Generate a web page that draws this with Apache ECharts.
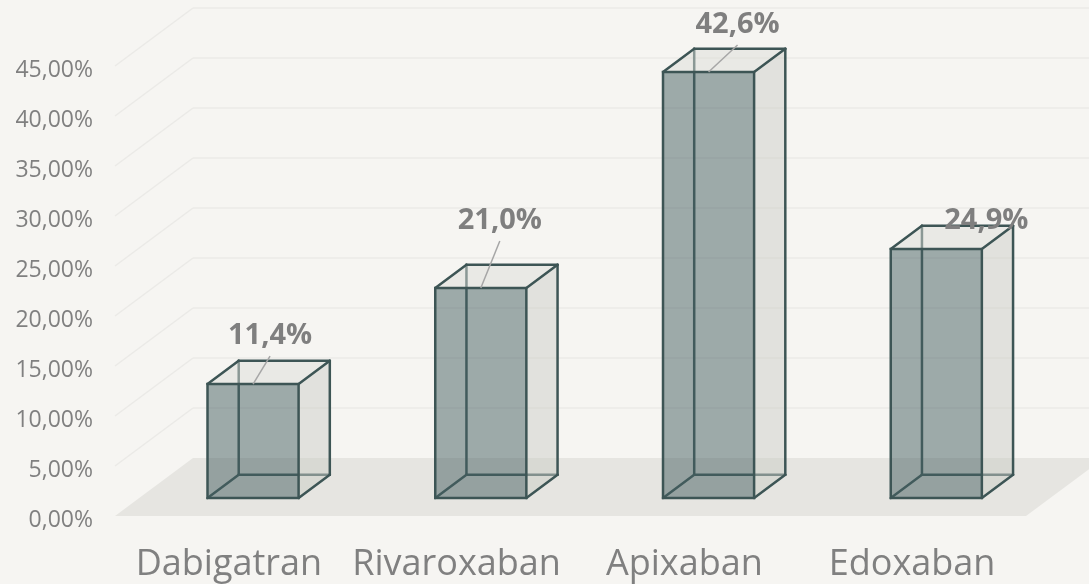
<!DOCTYPE html>
<html>
<head>
<meta charset="utf-8">
<script src="https://cdn.jsdelivr.net/npm/echarts@6/dist/echarts.min.js"></script>
<style>
html,body{margin:0;padding:0;background:#f6f5f2;}
#chart{width:1089px;height:584px;}
</style>
</head>
<body>
<div id="chart"></div>
<script>
// ---- data ----
const categories = ['Dabigatran', 'Rivaroxaban', 'Apixaban', 'Edoxaban'];
const shares = [11.4, 21.0, 42.6, 24.9];
const yTicks = [0, 5, 10, 15, 20, 25, 30, 35, 40, 45];

// ---- style constants (pixels) ----
const DEPTH = [78, -58];            // full floor depth vector
const BAR_FRONT = 0.31, BAR_BACK = 0.71; // bar depth fractions
const BAR_WIDTH_FRAC = 0.4;
const labelOffsets = [[17, -48, true], [19, -67, true], [29, -47, true], [50, -28, false]];
const EDGE = '#3d5555';
const FONT = '"Open Sans", "Noto Sans", sans-serif';

const fmtPct = v => v.toFixed(1).replace('.', ',') + '%';
const fmtTick = v => v.toFixed(2).replace('.', ',') + '%';

const chart = echarts.init(document.getElementById('chart'), null, {renderer: 'canvas'});

function wallRender(params, api) {
  const cs = params.coordSys;
  const v = api.value(0);
  const y = api.coord([0, v])[1];
  const x0 = cs.x, x1 = cs.x + cs.width;
  const col = '#ebeae7';
  return {
    type: 'group',
    children: [
      {type: 'line', shape: {x1: x0, y1: y, x2: x0 + DEPTH[0], y2: y + DEPTH[1]},
       style: {stroke: col, lineWidth: 1.5}},
      {type: 'line', shape: {x1: x0 + DEPTH[0], y1: y + DEPTH[1], x2: x1 + DEPTH[0] + 20, y2: y + DEPTH[1]},
       style: {stroke: col, lineWidth: 1.5}}
    ]
  };
}

function floorRender(params, api) {
  const cs = params.coordSys;
  const y = api.coord([0, 0])[1];
  const x0 = cs.x, x1 = cs.x + cs.width;
  return {
    type: 'polygon',
    shape: {points: [[x0, y], [x1, y], [x1 + DEPTH[0], y + DEPTH[1]], [x0 + DEPTH[0], y + DEPTH[1]]]},
    style: {fill: '#e6e5e1'}
  };
}

function barRender(params, api) {
  const i = api.value(0), v = api.value(1);
  const base = api.coord([i, 0]);
  const top = api.coord([i, v]);
  const hw = api.size([1, 0])[0] * BAR_WIDTH_FRAC / 2;
  const fx = DEPTH[0] * BAR_FRONT, fy = DEPTH[1] * BAR_FRONT;
  const bx = DEPTH[0] * BAR_BACK, by = DEPTH[1] * BAR_BACK;
  const cx = base[0];
  const FL = cx - hw + fx, FR = cx + hw + fx, FB = base[1] + fy, FT = top[1] + fy;
  const BL = cx - hw + bx, BR = cx + hw + bx, BB = base[1] + by, BT = top[1] + by;
  const lw = 2.5;
  const line = (a, b, c, d, col) => ({type: 'line', shape: {x1: a, y1: b, x2: c, y2: d},
    style: {stroke: col || EDGE, lineWidth: lw, lineCap: 'round'}});
  const children = [
    line(BL, BB, BL, BT, '#4a6161'),
    line(BL, BB, BR, BB, '#4a6161'),
    line(FL, FB, BL, BB, '#4a6161'),
    {type: 'polygon', shape: {points: [[FR, FB], [BR, BB], [BR, BT], [FR, FT]]},
     style: {fill: 'rgba(200,202,196,0.45)'}},
    {type: 'polygon', shape: {points: [[FL, FT], [FR, FT], [BR, BT], [BL, BT]]},
     style: {fill: 'rgba(218,220,213,0.45)'}},
    {type: 'rect', shape: {x: FL, y: FT, width: FR - FL, height: FB - FT},
     style: {fill: 'rgba(58,85,88,0.47)'}},
    {type: 'rect', shape: {x: FL, y: FT, width: FR - FL, height: FB - FT},
     style: {fill: null, stroke: EDGE, lineWidth: lw}},
    line(FR, FB, BR, BB),
    line(BR, BB, BR, BT),
    line(FR, FT, BR, BT),
    line(FL, FT, BL, BT),
    line(BL, BT, BR, BT)
  ];
  const off = labelOffsets[i];
  const ftcx = (FL + FR) / 2;
  const lx = ftcx + off[0], ly = FT + off[1];
  if (off[2]) {
    children.push({type: 'line', shape: {x1: ftcx, y1: FT, x2: lx, y2: ly + 20},
      style: {stroke: '#a6a6a6', lineWidth: 1.5}});
  }
  children.push({type: 'text', x: lx, y: ly, z2: 10,
    style: {text: fmtPct(v), fill: '#7f7f7f', font: 'bold 29px ' + FONT,
            align: 'center', verticalAlign: 'middle'}});
  return {type: 'group', children};
}

const option = {
  backgroundColor: '#f6f5f2',
  animation: false,
  grid: {left: 115, right: 63, top: 66, bottom: 68, containLabel: false},
  xAxis: {
    type: 'category', data: categories,
    axisLine: {show: false}, axisTick: {show: false},
    axisLabel: {fontSize: 36, fontFamily: FONT, color: '#808080', margin: 31, interval: 0}
  },
  yAxis: {
    type: 'value', min: 0, max: 45, interval: 5,
    axisLine: {show: false}, axisTick: {show: false}, splitLine: {show: false},
    axisLabel: {fontSize: 23, fontFamily: FONT, color: '#808080', margin: 22,
                verticalAlign: 'top', lineHeight: 8, formatter: fmtTick}
  },
  series: [
    {type: 'custom', renderItem: wallRender, data: yTicks.filter(v => v > 0).map(v => [v]),
     encode: {y: 0}, silent: true, z: 1, clip: false},
    {type: 'custom', renderItem: floorRender, data: [[0]], encode: {y: 0}, silent: true, z: 2, clip: false},
    {type: 'custom', renderItem: barRender, data: shares.map((v, i) => [i, v]),
     encode: {x: 0, y: 1}, z: 3, clip: false}
  ]
};
chart.setOption(option);
</script>
</body>
</html>
